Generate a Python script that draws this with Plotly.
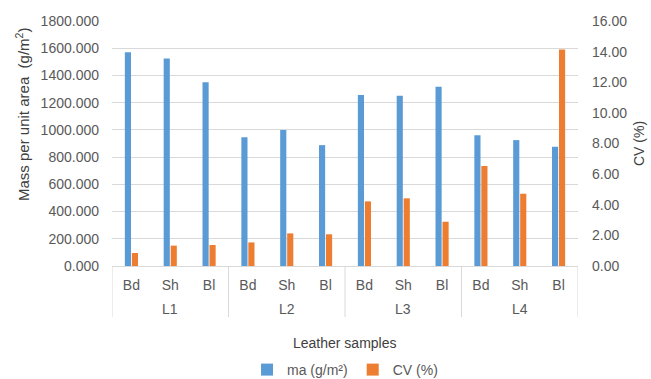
import plotly.graph_objects as go

groups = ["L1", "L2", "L3", "L4"]
parts = ["Bd", "Sh", "Bl"]
ma_values = [1570, 1525, 1350, 945, 1000, 888, 1256, 1251, 1317, 960, 925, 876]
cv_values = [0.85, 1.33, 1.37, 1.54, 2.13, 2.07, 4.22, 4.42, 2.89, 6.53, 4.72, 14.14]

cats = [f"{g} {p}" for g in groups for p in parts]
tick_text = [p for _ in groups for p in parts]

BLUE = "#5b9bd5"
ORANGE = "#ed7d31"
GRID = "#d9d9d9"
TXT = "#595959"
TITLE = "#404040"
FONT = "Liberation Sans, Arial, sans-serif"
FS = 14

fig = go.Figure()
fig.add_trace(go.Bar(x=cats, y=ma_values, name="ma (g/m²)", marker_color=BLUE,
                     marker_line_width=0, offsetgroup="1", yaxis="y"))
fig.add_trace(go.Bar(x=cats, y=cv_values, name="CV (%)", marker_color=ORANGE,
                     marker_line_width=0, offsetgroup="2", yaxis="y2"))

H_PLOT = 245.0
W_PLOT = 466.0
n = len(cats)
group_size = len(parts)
shapes = []
for i in range(len(groups) + 1):
    xb = i * group_size - 0.5
    shapes.append(dict(type="line", xref="x", yref="paper", x0=xb, x1=xb,
                       y0=0, y1=-51 / H_PLOT, line=dict(color=GRID, width=1)))
annotations = []
for gi, g in enumerate(groups):
    annotations.append(dict(text=g, x=cats[gi * group_size + 1], xref="x",
                            y=-43 / H_PLOT, yref="paper", xanchor="center", yanchor="middle",
                            showarrow=False, font=dict(size=FS, color=TXT)))
annotations.append(dict(text="Leather samples", x=0.5, xref="paper", y=-77 / H_PLOT, yref="paper",
                        xanchor="center", yanchor="middle", showarrow=False,
                        font=dict(size=FS, color=TITLE)))
annotations.append(dict(text="Mass per unit area  (g/m<sup>2</sup>)", textangle=-90,
                        x=(22 - 112) / W_PLOT, xref="paper", y=(266 - 115) / H_PLOT, yref="paper",
                        xanchor="center", yanchor="middle", showarrow=False,
                        font=dict(size=15, color=TITLE)))

fig.update_layout(
    width=651, height=379,
    margin=dict(l=112, r=73, t=21, b=113, autoexpand=False),
    paper_bgcolor="white", plot_bgcolor="white",
    font=dict(family=FONT, size=FS, color=TXT),
    barmode="group", bargap=0.64, bargroupgap=0.12,
    showlegend=True,
    legend=dict(orientation="h", x=0.53, xanchor="center", xref="container",
                y=9 / 379, yanchor="middle", yref="container",
                font=dict(size=FS, color=TXT), itemwidth=30, tracegroupgap=0),
    xaxis=dict(type="category", showline=True, linecolor=GRID, linewidth=1,
               tickmode="array", tickvals=cats, ticktext=tick_text,
               ticks="", ticklabelstandoff=6, tickfont=dict(size=FS, color=TXT),
               showgrid=False, automargin=False, range=[-0.5, n - 0.5]),
    yaxis=dict(range=[0, 1800], dtick=200, tickformat=".3f", showgrid=True,
               gridcolor=GRID, gridwidth=1, zeroline=False, showline=False, ticks="",
               ticklabelstandoff=12, automargin=False,
               tickfont=dict(size=FS, color=TXT)),
    yaxis2=dict(range=[0, 16], dtick=2, tickformat=".2f", overlaying="y", side="right",
                showgrid=False, zeroline=False, showline=False, ticks="",
                ticklabelstandoff=13, automargin=False,
                tickfont=dict(size=FS, color=TXT),
                title=dict(text="CV (%)", font=dict(size=FS, color=TITLE), standoff=7)),
    shapes=shapes,
    annotations=annotations,
)

fig.write_html("out.html")
